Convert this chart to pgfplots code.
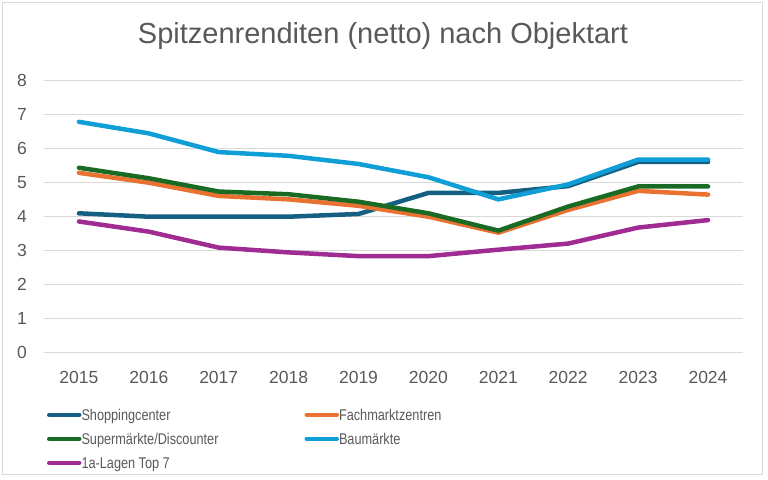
\documentclass[border=0pt]{standalone}
\usepackage{fontspec}
\setmainfont{Liberation Sans}
\usepackage{graphicx}
\usepackage{pgfplots}
\pgfplotsset{compat=1.18}
\usepackage{pgfplotstable}
\definecolor{cShop}{HTML}{156082}
\definecolor{cFach}{HTML}{E97132}
\definecolor{cSuper}{HTML}{196B24}
\definecolor{cBau}{HTML}{0F9ED5}
\definecolor{cLage}{HTML}{A02B93}
\definecolor{txtgray}{HTML}{595959}
\definecolor{gridgray}{HTML}{D9D9D9}
\newcommand{\nar}[1]{\scalebox{0.82}[1]{#1}}
\pgfplotstableread{
year shop fach super bau lage
2015 4.10 5.29 5.44 6.79 3.86
2016 4.00 5.00 5.13 6.45 3.56
2017 4.00 4.61 4.74 5.90 3.09
2018 4.00 4.51 4.66 5.79 2.95
2019 4.08 4.32 4.44 5.55 2.84
2020 4.70 4.00 4.10 5.16 2.84
2021 4.70 3.53 3.59 4.51 3.03
2022 4.90 4.20 4.30 4.95 3.21
2023 5.61 4.76 4.89 5.68 3.68
2024 5.61 4.65 4.89 5.68 3.90
}\datatable
\begin{document}
\begin{tikzpicture}
\path[use as bounding box] (0pt,0pt) rectangle (768pt,479pt);
\draw[gridgray, line width=1pt] (2.5pt,4pt) rectangle (762pt,476.5pt);
\node[text=txtgray, font=\fontsize{29}{32}\selectfont] at (383pt,443pt) {Spitzenrenditen (netto) nach Objektart};
\begin{axis}[
  at={(44pt,126.3pt)}, anchor=south west,
  scale only axis, width=699pt, height=272pt,
  xmin=2014.5, xmax=2024.5, ymin=0, ymax=8,
  xtick={2015,...,2024}, ytick={0,...,8},
  axis line style={draw=none}, tick style={draw=none},
  ymajorgrids, grid style={gridgray, line width=1.5pt},
  /pgf/number format/assume math mode=true,
  /pgf/number format/1000 sep={},
  ticklabel style={font=\fontsize{17.5}{20}\selectfont, text=txtgray, inner sep=0pt},
  xticklabel style={anchor=north, yshift=-18pt},
  yticklabel style={anchor=east, xshift=-17pt},
  legend columns=2,
  legend style={draw=none, fill=none, inner sep=0pt, outer sep=0pt,
    at={(axis description cs:0,0)}, anchor=north west, xshift=3pt, yshift=-56.8pt,
    row sep=10pt, column sep=0pt, text=txtgray,
    font=\fontsize{15.5}{18}\selectfont,
    nodes={inner sep=0pt, outer sep=0pt, text height=11.1pt, text depth=2.9pt}},
  legend cell align=left,
  legend image code/.code={\draw[#1, line width=4.5pt] (0pt,1.6pt) -- (30pt,1.6pt);},
  every axis plot/.append style={line width=4.5pt, line join=round, line cap=round},
]
\addplot[cShop] table[x=year,y=shop] {\datatable};
\addplot[cFach] table[x=year,y=fach] {\datatable};
\addplot[cSuper] table[x=year,y=super] {\datatable};
\addplot[cBau] table[x=year,y=bau] {\datatable};
\addplot[cLage] table[x=year,y=lage] {\datatable};
\legend{\makebox[223pt][l]{\nar{Shoppingcenter}}, \nar{Fachmarktzentren}, \makebox[223pt][l]{\nar{Superm\"arkte/Discounter}}, \nar{Baum\"arkte}, \nar{1a-Lagen Top 7}}
\end{axis}
\end{tikzpicture}
\end{document}
